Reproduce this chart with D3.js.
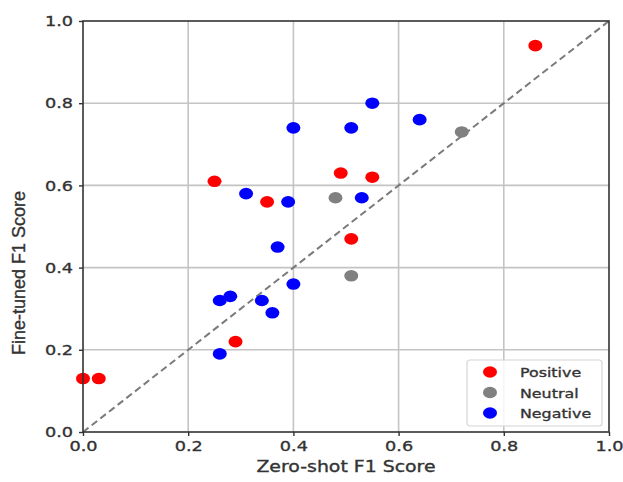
<!DOCTYPE html>
<html>
<head>
<meta charset="utf-8">
<script src="https://cdn.jsdelivr.net/npm/d3@7"></script>
<style>
  body { margin: 0; background: #fff; }
  text { font-family: "DejaVu Sans", sans-serif; fill: #333; stroke: #333; stroke-width: 0.35px; }
</style>
</head>
<body>
<script>
// zero-shot vs fine-tuned F1 per sentiment class
var positiveX = [0.0, 0.03, 0.25, 0.35, 0.29, 0.49, 0.55, 0.51, 0.86];
var positiveY = [0.13, 0.13, 0.61, 0.56, 0.22, 0.63, 0.62, 0.47, 0.94];
var neutralX = [0.48, 0.51, 0.72];
var neutralY = [0.57, 0.38, 0.73];
var negativeX = [0.31, 0.39, 0.40, 0.51, 0.55, 0.64, 0.53, 0.37, 0.40, 0.26, 0.28, 0.34, 0.36, 0.26];
var negativeY = [0.58, 0.56, 0.74, 0.74, 0.80, 0.76, 0.57, 0.45, 0.36, 0.32, 0.33, 0.32, 0.29, 0.19];
var ticks = [0, 0.2, 0.4, 0.6, 0.8, 1.0];
var seriesNames = ["Positive", "Neutral", "Negative"];
var seriesColors = ["#ff0000", "#808080", "#0000ff"];

var series = [
  {name: seriesNames[0], color: seriesColors[0], xs: positiveX, ys: positiveY},
  {name: seriesNames[1], color: seriesColors[1], xs: neutralX, ys: neutralY},
  {name: seriesNames[2], color: seriesColors[2], xs: negativeX, ys: negativeY}
];

var svg = d3.select("body").append("svg")
  .attr("width", 623)
  .attr("height", 482);

var margin = {top: 21, right: 14, bottom: 50, left: 83},
  sx = 1.22; // the picture is stretched sideways

var g = svg.append("g").attr("transform", "translate(" + margin.left + "," + margin.top + ")");

var x = d3.scaleLinear().domain([0, 1]).range([0, 526]);
var y = d3.scaleLinear().domain([0, 1]).range([411, 0]);

// grid
g.append("g").selectAll("line.gx")
  .data(ticks.slice(1, -1))
  .enter().append("line")
  .attr("x1", function(d) { return x(d); })
  .attr("x2", function(d) { return x(d); })
  .attr("y1", 0).attr("y2", y(0))
  .attr("stroke", "#c4c4c4").attr("stroke-width", 1.6);
g.append("g").selectAll("line.gy")
  .data(ticks.slice(1, -1))
  .enter().append("line")
  .attr("y1", function(d) { return y(d); })
  .attr("y2", function(d) { return y(d); })
  .attr("x1", 0).attr("x2", x(1))
  .attr("stroke", "#c4c4c4").attr("stroke-width", 1.6);

// diagonal
g.append("line")
  .attr("x1", x(0)).attr("y1", y(0))
  .attr("x2", x(1)).attr("y2", y(1))
  .attr("stroke", "#7a7a7a")
  .attr("stroke-width", 2)
  .attr("stroke-dasharray", "7,4");

// points
series.forEach(function(s) {
  g.append("g").selectAll("ellipse")
    .data(s.xs.map(function(v, i) { return [v, s.ys[i]]; }))
    .enter().append("ellipse")
    .attr("cx", function(d) { return x(d[0]); })
    .attr("cy", function(d) { return y(d[1]); })
    .attr("rx", 7)
    .attr("ry", 5.8)
    .attr("fill", s.color);
});

// frame
g.append("rect")
  .attr("width", x(1)).attr("height", y(0))
  .attr("fill", "none").attr("stroke", "#333").attr("stroke-width", 1.6);

function styleAxis(a) {
  a.select(".domain").remove();
  a.selectAll(".tick line").attr("stroke", "#333").attr("stroke-width", 1.4);
  a.selectAll(".tick text")
    .style("font-size", "14.5px")
    .attr("fill", "#333");
}

var fmt = d3.format(".1f");

var xAxis = g.append("g")
  .attr("transform", "translate(0," + y(0) + ")")
  .call(d3.axisBottom(x).tickValues(ticks).tickFormat(fmt).tickSize(4).tickPadding(5));
styleAxis(xAxis);
xAxis.selectAll(".tick text").attr("transform", "scale(" + sx + ",1)");

var yAxis = g.append("g")
  .call(d3.axisLeft(y).tickValues(ticks).tickFormat(fmt).tickSize(4).tickPadding(6));
styleAxis(yAxis);
yAxis.selectAll(".tick text")
  .attr("x", -10 / sx)
  .attr("transform", "scale(" + sx + ",1)");

// axis titles
svg.append("text")
  .attr("transform", "translate(346,472) scale(" + sx + ",1)")
  .attr("text-anchor", "middle")
  .style("font-size", "15.5px")
  .text("Zero-shot F1 Score");

svg.append("text")
  .attr("transform", "translate(25,273) rotate(-90)")
  .attr("text-anchor", "middle")
  .style("font-family", "'Liberation Sans Narrow', 'Liberation Sans', sans-serif")
  .style("font-size", "18px")
  .text("Fine-tuned F1 Score");

// legend
var legend = svg.append("g").attr("transform", "translate(467,360)");
legend.append("rect")
  .attr("width", 135).attr("height", 66).attr("rx", 3)
  .attr("fill", "#fff").attr("fill-opacity", 0.85)
  .attr("stroke", "#d4d4d4").attr("stroke-width", 1.2);
var item = legend.selectAll("g.item")
  .data(series)
  .enter().append("g")
  .attr("transform", function(d, i) { return "translate(0," + (12 + i * 20.5) + ")"; });
item.append("ellipse")
  .attr("cx", 23).attr("cy", 0)
  .attr("rx", 7).attr("ry", 5.8)
  .attr("fill", function(d) { return d.color; });
item.append("text")
  .attr("transform", "translate(53,5) scale(" + sx + ",1)")
  .style("font-size", "13px")
  .text(function(d) { return d.name; });
</script>
</body>
</html>
